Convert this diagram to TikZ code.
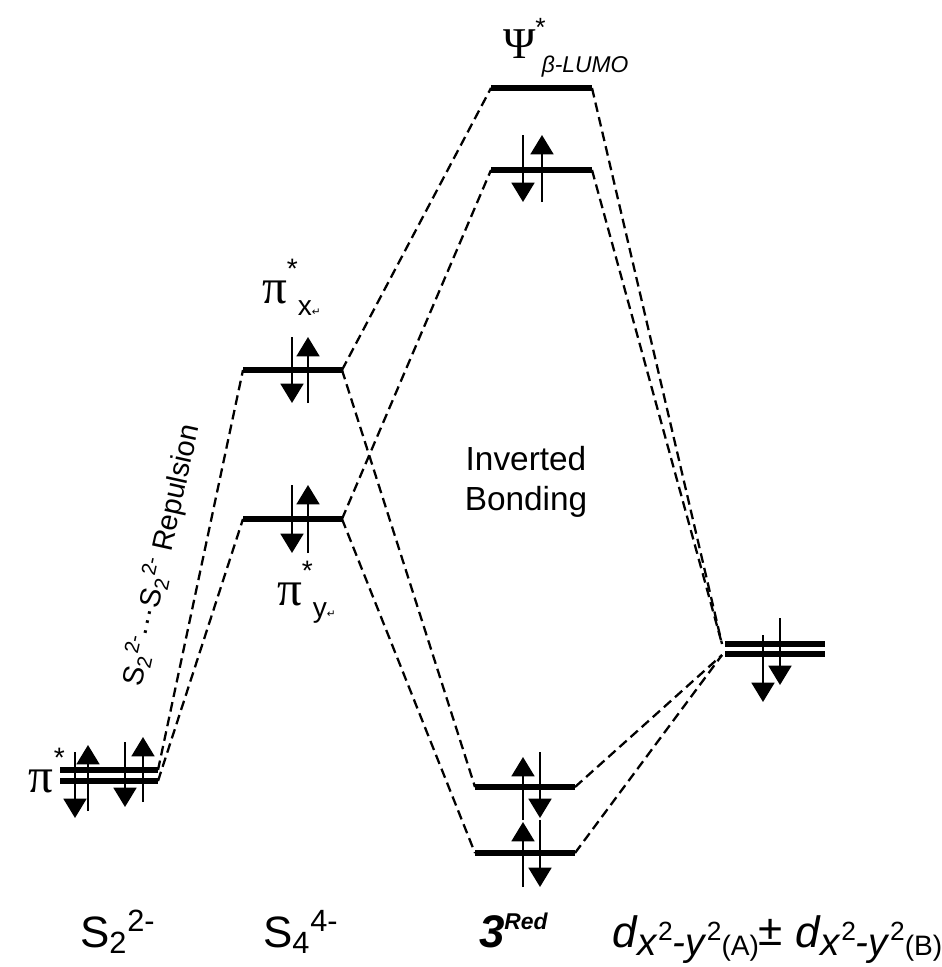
\documentclass[tikz,border=0pt]{standalone}
\usepackage{fontspec}
\setmainfont{Liberation Sans}
\newfontfamily\greekfont{Liberation Serif}
\newfontfamily\dejavu{DejaVu Sans}
\usetikzlibrary{arrows.meta,positioning}

\newcommand{\dorb}[1]{\textit{d}\raisebox{-5pt}{\fontsize{22}{22}\selectfont\textit{x}\raisebox{8.5pt}{\fontsize{15}{15}\selectfont 2}\textit{-y}\raisebox{8.5pt}{\fontsize{15}{15}\selectfont 2}\fontsize{16}{16}\selectfont(#1)}}
\newcommand{\pistar}[1]{{\greekfont\fontsize{28}{28}\selectfont π}\raisebox{14pt}{\fontsize{16}{16}\selectfont *}\raisebox{-7pt}{\fontsize{16}{16}\selectfont #1{\dejavu\fontsize{6}{6}\selectfont ↵}}}

\begin{document}
\begin{tikzpicture}[
    x=0.02cm, y=-0.02cm,
    every node/.style={inner sep=0pt, outer sep=0pt},
    level/.style={line width=3.4pt},
    link/.style={line width=1.3pt, dash pattern=on 5.5pt off 3pt},
    spin/.style={line width=1.3pt, -{Triangle[width=13pt,length=11pt]}},
    species/.style={font=\fontsize{25}{25}\selectfont, anchor=base west}
]
\useasboundingbox (0,0) rectangle (942,967);

\draw[level] (60,770) coordinate (s2a_l) -- (158,770) coordinate (s2a_r);
\draw[level] (60,781) coordinate (s2b_l) -- (158,781) coordinate (s2b_r);
\draw[level] (243,370) coordinate (pix_l) -- (342,370) coordinate (pix_r);
\draw[level] (243,519) coordinate (piy_l) -- (342,519) coordinate (piy_r);
\draw[level] (491,88) coordinate (psi_l) -- (592,88) coordinate (psi_r);
\draw[level] (491,170) coordinate (somo_l) -- (592,170) coordinate (somo_r);
\draw[level] (475,787) coordinate (bond_a_l) -- (575,787) coordinate (bond_a_r);
\draw[level] (475,853) coordinate (bond_b_l) -- (575,853) coordinate (bond_b_r);
\draw[level] (725,644) coordinate (da_l) -- (825,644) coordinate (da_r);
\draw[level] (725,654) coordinate (db_l) -- (825,654) coordinate (db_r);
\coordinate (d_up) at (722,644);
\coordinate (d_low) at (722,655);

\draw[link] (s2a_r) -- (pix_l);
\draw[link] (s2b_r) -- (piy_l);
\draw[link] (pix_r) -- (psi_l);
\draw[link] (piy_r) -- (somo_l);
\draw[link] (pix_r) -- (bond_a_l);
\draw[link] (piy_r) -- (bond_b_l);
\draw[link] (psi_r) -- (d_up);
\draw[link] (somo_r) -- (d_up);
\draw[link] (bond_a_r) -- (d_low);
\draw[link] (bond_b_r) -- (d_low);

\draw[spin] (75,752) -- (75,818);
\draw[spin] (88,811) -- (88,745);
\draw[spin] (125,742) -- (125,807);
\draw[spin] (143,802) -- (143,737);
\draw[spin] (292,337) -- (292,403);
\draw[spin] (308,403) -- (308,337);
\draw[spin] (292,485) -- (292,553);
\draw[spin] (308,553) -- (308,485);
\draw[spin] (523,135) -- (523,202);
\draw[spin] (542,202) -- (542,135);
\draw[spin] (523,820) -- (523,757);
\draw[spin] (540,752) -- (540,818);
\draw[spin] (523,887) -- (523,822);
\draw[spin] (540,820) -- (540,887);
\draw[spin] (763,635) -- (763,702);
\draw[spin] (780,618) -- (780,685);

\node[anchor=base west] (pi_s2) at (29,792) {{\greekfont\fontsize{28}{28}\selectfont π}\raisebox{14pt}{\fontsize{16}{16}\selectfont *}};
\node[anchor=base west] (pi_x) at (262,303) {\pistar{x}};
\node[anchor=base west] (pi_y) at (277,605) {\pistar{y}};
\node[anchor=base west] (psi_lbl) at (503,58) {{\greekfont\fontsize{25}{25}\selectfont Ψ}\rlap{\raisebox{12pt}{\fontsize{15}{15}\selectfont *}}\raisebox{-8pt}{\fontsize{13}{13}\selectfont\itshape\ β-LUMO}};
\node[align=center, font=\fontsize{19}{23}\selectfont] (inverted) at (526,482) {Inverted\\Bonding};
\node[rotate=77.5, font=\fontsize{16.5}{16.5}\selectfont] (repulsion) at (161,555) {S\textsubscript{2}\textsuperscript{2-}···S\textsubscript{2}\textsuperscript{2-} Repulsion};

\node[species] (s2_lbl) at (80,947) {S\textsubscript{2}\textsuperscript{2-}};
\node[species] (s4_lbl) at (263,947) {S\textsubscript{4}\textsuperscript{4-}};
\node[anchor=base west] (red_lbl) at (479,947) {{\fontsize{26}{26}\selectfont\bfseries\itshape 3}\raisebox{10pt}{\fontsize{13}{13}\selectfont\bfseries\itshape Red}};
\node[anchor=base west, font=\fontsize{25}{25}\selectfont] (d_lbl) at (612,947) {\dorb{A}\raisebox{1pt}{±} \dorb{B}};

\end{tikzpicture}
\end{document}
